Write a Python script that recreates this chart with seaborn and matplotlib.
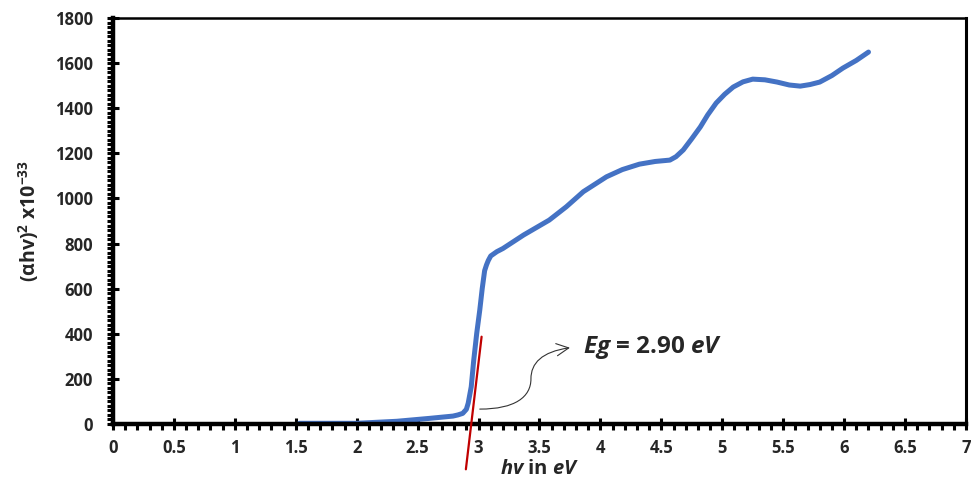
import numpy as np
import pandas as pd
import matplotlib
matplotlib.use("Agg")
import matplotlib.pyplot as plt
import seaborn as sns
from matplotlib.path import Path
from matplotlib.patches import FancyArrowPatch
from matplotlib.ticker import MultipleLocator

# Data
hv = [1.53, 2.0, 2.33, 2.6, 2.79, 2.83, 2.87, 2.9, 2.915, 2.94, 2.96, 2.985, 3.01, 3.03,
      3.05, 3.065, 3.08, 3.1, 3.15, 3.2, 3.37, 3.58, 3.72, 3.86, 4.05, 4.18, 4.32, 4.45,
      4.57, 4.62, 4.68, 4.75, 4.82, 4.88, 4.95, 5.02, 5.09, 5.17, 5.25, 5.35, 5.45, 5.55,
      5.64, 5.72, 5.8, 5.9, 5.99, 6.1, 6.2]
ahv2 = [3, 3, 12, 25, 35, 40, 47, 65, 92, 165, 280, 402, 505, 600,
        680, 705, 725, 745, 764, 778, 838, 904, 963, 1030, 1096, 1128, 1152, 1164,
        1170, 1185, 1215, 1265, 1317, 1370, 1423, 1462, 1494, 1517, 1529, 1526, 1516, 1503,
        1498, 1505, 1516, 1545, 1578, 1612, 1649]
tangent_x = [2.896, 3.025]
tangent_y = [-201, 387]
x_ticks = [0, 0.5, 1, 1.5, 2, 2.5, 3, 3.5, 4, 4.5, 5, 5.5, 6, 6.5, 7]
x_tick_labels = ["0", "0.5", "1", "1.5", "2", "2.5", "3", "3.5", "4", "4.5", "5", "5.5", "6", "6.5", "7"]
y_ticks = [0, 200, 400, 600, 800, 1000, 1200, 1400, 1600, 1800]

FONT = 'Open Sans'
sns.set_theme(style="white")
plt.rcParams['font.family'] = [FONT, 'DejaVu Sans']
plt.rcParams['font.weight'] = 'bold'
plt.rcParams['mathtext.fontset'] = 'custom'
plt.rcParams['mathtext.rm'] = FONT + ':bold'
plt.rcParams['mathtext.it'] = FONT + ':bold:italic'
plt.rcParams['mathtext.bf'] = FONT + ':bold'

fig = plt.figure(figsize=(9.79, 4.83), dpi=100)
ax = fig.add_axes([0.1154, 0.1222, 0.8713, 0.8405])

df = pd.DataFrame({"hv": hv, "y": ahv2})
sns.lineplot(data=df, x="hv", y="y", ax=ax, color="#4472C4", linewidth=3.6,
             solid_joinstyle="round", solid_capstyle="round", sort=False)
ax.plot(tangent_x, tangent_y, color="#C00000", linewidth=1.6, clip_on=False, zorder=5)

ax.set_xlim(0, 7)
ax.set_ylim(0, 1800)
ax.set_xticks(x_ticks)
ax.set_xticklabels(x_tick_labels)
ax.set_yticks(y_ticks)
ax.xaxis.set_minor_locator(MultipleLocator(0.1))
ax.yaxis.set_minor_locator(MultipleLocator(20))

for side, w in [("left", 3.2), ("bottom", 3.2), ("top", 1.8), ("right", 2.2)]:
    ax.spines[side].set_visible(True)
    ax.spines[side].set_color("black")
    ax.spines[side].set_linewidth(w)

ax.tick_params(axis="both", which="major", direction="inout", length=9, width=2.2,
               color="black", labelsize=12, pad=6, bottom=True, left=True)
ax.tick_params(axis="both", which="minor", direction="out", length=4.5, width=2.2,
               color="black", bottom=True, left=True)
ax.tick_params(axis="y", which="major", pad=10)
for lab in ax.get_xticklabels() + ax.get_yticklabels():
    lab.set_fontweight("bold")

ax.set_xlabel(r"$\it{hv}$ in $\it{eV}$", fontsize=14.5, fontweight="bold", labelpad=0)
ax.xaxis.set_label_coords(0.5, -0.086)
ax.set_ylabel(r"(αhv)$^{2}$ x10$^{-33}$", fontsize=14, fontweight="bold", labelpad=10)

ax.text(3.856, 341, r"$\it{Eg}$ = 2.90 $\it{eV}$", fontsize=17.5, fontweight="bold",
        va="center", ha="left")

arrow_path = Path(
    [(3.01, 66), (3.30, 66), (3.43, 120), (3.43, 200),
     (3.43, 270), (3.52, 320), (3.75, 338)],
    [Path.MOVETO, Path.CURVE4, Path.CURVE4, Path.CURVE4,
     Path.CURVE4, Path.CURVE4, Path.CURVE4])
arrow = FancyArrowPatch(path=arrow_path, arrowstyle="->", mutation_scale=22,
                        linewidth=0.8, color="#333333")
ax.add_patch(arrow)

fig.savefig("out.png", dpi=100)
